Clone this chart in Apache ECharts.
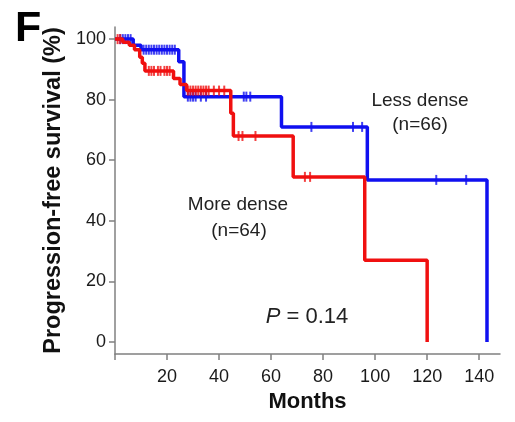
<!DOCTYPE html>
<html><head><meta charset="utf-8">
<script src="https://cdn.jsdelivr.net/npm/echarts@6/dist/echarts.min.js"></script>
<style>html,body{margin:0;padding:0;background:#fff}#c{width:515px;height:422px}</style>
</head><body><div id="c"></div>
<script>
// Kaplan-Meier step data (months, % progression-free)
const lessDenseTimes = [0, 7, 10, 24.5, 26.5, 64, 97, 143];
const lessDenseSurv  = [100, 98, 96.5, 92.5, 81, 71, 53.5, 0];
const moreDenseTimes = [0, 3, 5.5, 7.5, 9.5, 10.5, 11.5, 22.5, 25, 27.5, 44.5, 45.5, 68.5, 96, 120];
const moreDenseSurv  = [100, 99, 98, 96.5, 94, 92, 89.5, 87, 85, 83, 75.5, 68, 54.5, 27, 0];
// censored times
const lessDenseCensor = [2, 3, 4, 5, 6, 11, 12, 13, 14, 15, 16, 17, 18, 19, 20, 21, 22, 23, 28, 29, 30, 31, 33, 35, 49.5, 50.5, 52, 75.5, 91.5, 95, 123.5, 135];
const moreDenseCensor = [1, 2, 13, 14, 15, 16.5, 17.5, 19, 20, 21, 28, 29, 30, 31, 32, 33, 34, 35, 36, 38, 40, 42, 47.5, 49, 54, 73, 75];
// axis ticks
const xTicks = [0, 20, 40, 60, 80, 100, 120, 140];
const xTickLabels = [20, 40, 60, 80, 100, 120, 140];
const yTicks = [0, 20, 40, 60, 80, 100];

const BLUE = '#1010f0', RED = '#f01010', AX = '#808080';
const FONT = 'Liberation Sans, Arial, Helvetica, sans-serif';

function stepPairs(T, S) { return T.map((t, i) => [t, S[i]]); }
function levelAt(T, S, t) { let v = S[0]; for (let i = 0; i < T.length; i++) { if (T[i] <= t) v = S[i]; } return v; }
function censorPairs(C, T, S) { return C.map(t => [t, levelAt(T, S, t)]); }

const chart = echarts.init(document.getElementById('c'), null, {renderer: 'canvas'});
chart.setOption({
  animation: false,
  backgroundColor: '#fff',
  grid: {left: 115, right: 15, top: 27, bottom: 68, containLabel: false},
  xAxis: {
    type: 'value', min: 0, max: 148,
    name: 'Months', nameLocation: 'middle', nameGap: 36,
    nameTextStyle: {fontFamily: FONT, fontWeight: 'bold', fontSize: 22, color: '#111'},
    axisLine: {show: true, onZero: false, lineStyle: {color: AX, width: 1.5}},
    axisTick: {show: true, length: 6, lineStyle: {color: AX, width: 1.5}, customValues: xTicks},
    axisLabel: {fontFamily: FONT, fontSize: 18, color: '#1a1a1a', margin: 14, customValues: xTickLabels},
    splitLine: {show: false}
  },
  yAxis: {
    type: 'value', min: -4, max: 104,
    name: 'Progression-free survival (%)', nameLocation: 'middle', nameGap: 45,
    nameTextStyle: {fontFamily: FONT, fontWeight: 'bold', fontSize: 23.5, color: '#111'},
    axisLine: {show: true, onZero: false, lineStyle: {color: AX, width: 1.5}},
    axisTick: {show: true, length: 6, lineStyle: {color: AX, width: 1.5}, customValues: yTicks},
    axisLabel: {fontFamily: FONT, fontSize: 18, color: '#1a1a1a', margin: 9, customValues: yTicks},
    splitLine: {show: false}
  },
  series: [
    {type: 'line', name: 'Less dense', step: 'end', data: stepPairs(lessDenseTimes, lessDenseSurv),
     showSymbol: false, lineStyle: {color: BLUE, width: 3.5}, z: 2},
    {type: 'scatter', data: censorPairs(lessDenseCensor, lessDenseTimes, lessDenseSurv),
     symbol: 'rect', symbolSize: [2, 10], itemStyle: {color: BLUE}, z: 3},
    {type: 'line', name: 'More dense', step: 'end', data: stepPairs(moreDenseTimes, moreDenseSurv),
     showSymbol: false, lineStyle: {color: RED, width: 3.5}, z: 4},
    {type: 'scatter', data: censorPairs(moreDenseCensor, moreDenseTimes, moreDenseSurv),
     symbol: 'rect', symbolSize: [2, 10], itemStyle: {color: RED}, z: 5}
  ],
  graphic: [
    {type: 'text', left: 15, top: 8, style: {text: 'F', font: 'bold 43px ' + FONT, fill: '#000'}},
    {type: 'text', x: 420, y: 101, style: {text: 'Less dense', font: '19px ' + FONT, fill: '#222', align: 'center', verticalAlign: 'middle'}},
    {type: 'text', x: 420, y: 125, style: {text: '(n=66)', font: '19px ' + FONT, fill: '#222', align: 'center', verticalAlign: 'middle'}},
    {type: 'text', x: 238, y: 205, style: {text: 'More dense', font: '19px ' + FONT, fill: '#222', align: 'center', verticalAlign: 'middle'}},
    {type: 'text', x: 239, y: 231, style: {text: '(n=64)', font: '19px ' + FONT, fill: '#222', align: 'center', verticalAlign: 'middle'}},
    {type: 'text', x: 307, y: 317, style: {
      text: '{i|P} = 0.14', align: 'center', verticalAlign: 'middle',
      rich: {i: {fontStyle: 'italic', fontFamily: FONT, fontSize: 22, fill: '#222'}},
      font: '22px ' + FONT, fill: '#222'}}
  ]
});
</script></body></html>
